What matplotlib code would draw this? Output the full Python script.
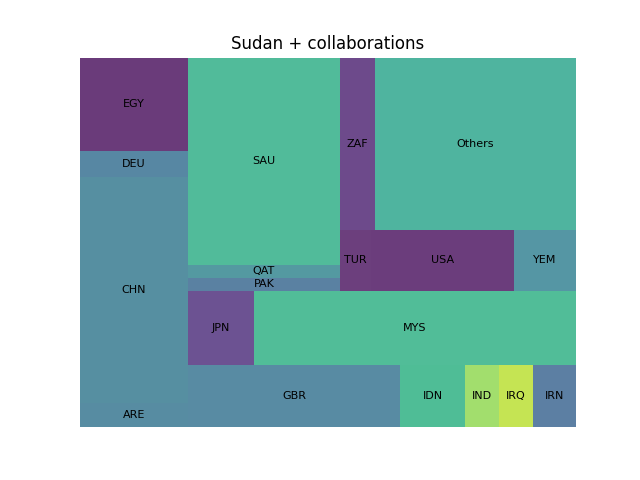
import matplotlib
matplotlib.use('Agg')
import matplotlib.pyplot as plt


# collaboration sizes, in plotting order
labels = ['ARE', 'CHN', 'DEU', 'EGY', 'GBR', 'IDN', 'IND', 'IRQ', 'IRN',
          'JPN', 'MYS', 'PAK', 'QAT', 'SAU', 'TUR', 'USA', 'YEM', 'ZAF',
          'Others']
sizes = [144.3, 1331.0, 151.4, 550.2, 719.4, 220.6, 115.4, 115.4, 145.9,
         267.5, 1305.0, 105.3, 107.8, 1720.0, 102.6, 473.4, 205.3, 329.2,
         1890.0]
colors = ['#578ca2', '#568fa1', '#5787a3', '#6a3b7a', '#588ba3', '#4fbd96',
          '#a2de6d', '#c5e453', '#5c7fa3', '#6c5292', '#51bd98', '#5a81a2',
          '#5499a1', '#51bb9a', '#6c3f7d', '#6b3d7c', '#5596a4', '#6d4a8b',
          '#4fb49f']


def layoutrow(vals, x, y, dx, dy):
    height = sum(vals) / dx
    rects = []
    for v in vals:
        rects.append((x, y, v / height, height))
        x += v / height
    return rects


def layoutcol(vals, x, y, dx, dy):
    width = sum(vals) / dy
    rects = []
    for v in vals:
        rects.append((x, y, width, v / width))
        y += v / width
    return rects


def layout(vals, x, y, dx, dy):
    if dx >= dy:
        return layoutcol(vals, x, y, dx, dy)
    return layoutrow(vals, x, y, dx, dy)


def leftover(vals, x, y, dx, dy):
    if dx >= dy:
        width = sum(vals) / dy
        return x + width, y, dx - width, dy
    height = sum(vals) / dx
    return x, y + height, dx, dy - height


def worst_ratio(vals, x, y, dx, dy):
    return max(max(w / h, h / w) for _, _, w, h in layout(vals, x, y, dx, dy))


def squarify(vals, x, y, dx, dy):
    if len(vals) == 0:
        return []
    if len(vals) == 1:
        return layout(vals, x, y, dx, dy)
    i = 1
    while i < len(vals) and worst_ratio(vals[:i], x, y, dx, dy) >= worst_ratio(vals[:i + 1], x, y, dx, dy):
        i += 1
    lx, ly, ldx, ldy = leftover(vals[:i], x, y, dx, dy)
    return layout(vals[:i], x, y, dx, dy) + squarify(vals[i:], lx, ly, ldx, ldy)


total = sum(sizes)
norm = [s * 100.0 * 100.0 / total for s in sizes]
rects = squarify(norm, 0, 0, 100, 100)

fig, ax = plt.subplots(figsize=(6.4, 4.8), dpi=100)
for (x, y, w, h), lab, c in zip(rects, labels, colors):
    ax.bar(x, h, width=w, bottom=y, color=c, align='edge')
    ax.text(x + w / 2, y + h / 2, lab, va='center', ha='center', fontsize=8)
ax.set_xlim(0, 100)
ax.set_ylim(0, 100)
ax.axis('off')
ax.set_title('Sudan + collaborations')
fig.savefig('out.png')
